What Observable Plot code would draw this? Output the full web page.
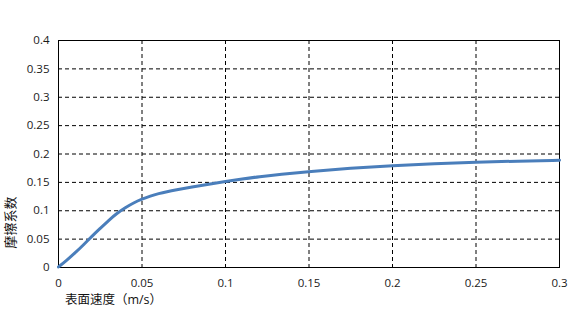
<!DOCTYPE html>
<html>
<head>
<meta charset="utf-8">
<script src="https://cdn.jsdelivr.net/npm/d3@7"></script>
<script src="https://cdn.jsdelivr.net/npm/@observablehq/plot@0.6"></script>
<style>
  html, body { margin: 0; padding: 0; background: #fff; }
  #chart svg { display: block; }
</style>
</head>
<body>
<div id="chart"></div>
<script>
const speed = [0, 0.005, 0.01, 0.015, 0.02, 0.025, 0.03, 0.035, 0.04, 0.045, 0.05, 0.055, 0.06, 0.065, 0.07, 0.08, 0.09, 0.1, 0.11, 0.12, 0.133, 0.15, 0.175, 0.2, 0.225, 0.25, 0.275, 0.3];
const friction = [0.001, 0.013, 0.026, 0.040, 0.055, 0.069, 0.083, 0.0955, 0.1055, 0.114, 0.1205, 0.126, 0.1303, 0.1337, 0.1366, 0.1418, 0.1468, 0.1515, 0.156, 0.160, 0.1645, 0.169, 0.175, 0.1795, 0.183, 0.1855, 0.1875, 0.189];
const xTicks = [0, 0.05, 0.1, 0.15, 0.2, 0.25, 0.3];
const xTickLabels = ["0", "0.05", "0.1", "0.15", "0.2", "0.25", "0.3"];
const yTicks = [0, 0.05, 0.1, 0.15, 0.2, 0.25, 0.3, 0.35, 0.4];
const yTickLabels = ["0", "0.05", "0.1", "0.15", "0.2", "0.25", "0.3", "0.35", "0.4"];
const xTitle = "表面速度（m/s）";
const yTitle = "摩擦系数";

const data = speed.map((s, i) => ({speed: s, friction: friction[i]}));
const fontFam = "'Open Sans', 'Noto Sans CJK SC', sans-serif";

const chart = Plot.plot({
  width: 575,
  height: 324,
  marginLeft: 58,
  marginRight: 16,
  marginTop: 40,
  marginBottom: 57,
  style: {fontFamily: fontFam, fontSize: "11.5px", color: "#1a1a1a", background: "#fff"},
  x: {domain: [0, 0.3]},
  y: {domain: [0, 0.4]},
  marks: [
    Plot.gridX(xTicks.slice(1, -1), {stroke: "#000", strokeOpacity: 1, strokeDasharray: "4,3"}),
    Plot.gridY(yTicks.slice(1, -1), {stroke: "#000", strokeOpacity: 1, strokeDasharray: "4,3"}),
    Plot.frame({stroke: "#000", strokeWidth: 1}),
    Plot.axisX({ticks: xTicks, tickFormat: (d, i) => xTickLabels[i], tickSize: 0, tickPadding: 11, label: null, fontSize: 11.5, fill: "#1a1a1a"}),
    Plot.axisY({ticks: yTicks, tickFormat: (d, i) => yTickLabels[i], tickSize: 0, tickPadding: 9, label: null, fontSize: 11.5, fill: "#1a1a1a"}),
    Plot.line(data, {x: "speed", y: "friction", stroke: "#4a7ebb", strokeWidth: 3, curve: "basis"}),
    Plot.text([xTitle], {frameAnchor: "bottom-left", dx: 55, dy: 36, text: d => d, textAnchor: "middle", fontSize: 12.5, fill: "#111"}),
    Plot.text([yTitle], {frameAnchor: "bottom-left", dx: -44, dy: -45, text: d => d, textAnchor: "middle", rotate: -90, fontSize: 13, fill: "#111"})
  ]
});
document.getElementById("chart").appendChild(chart);
</script>
</body>
</html>
